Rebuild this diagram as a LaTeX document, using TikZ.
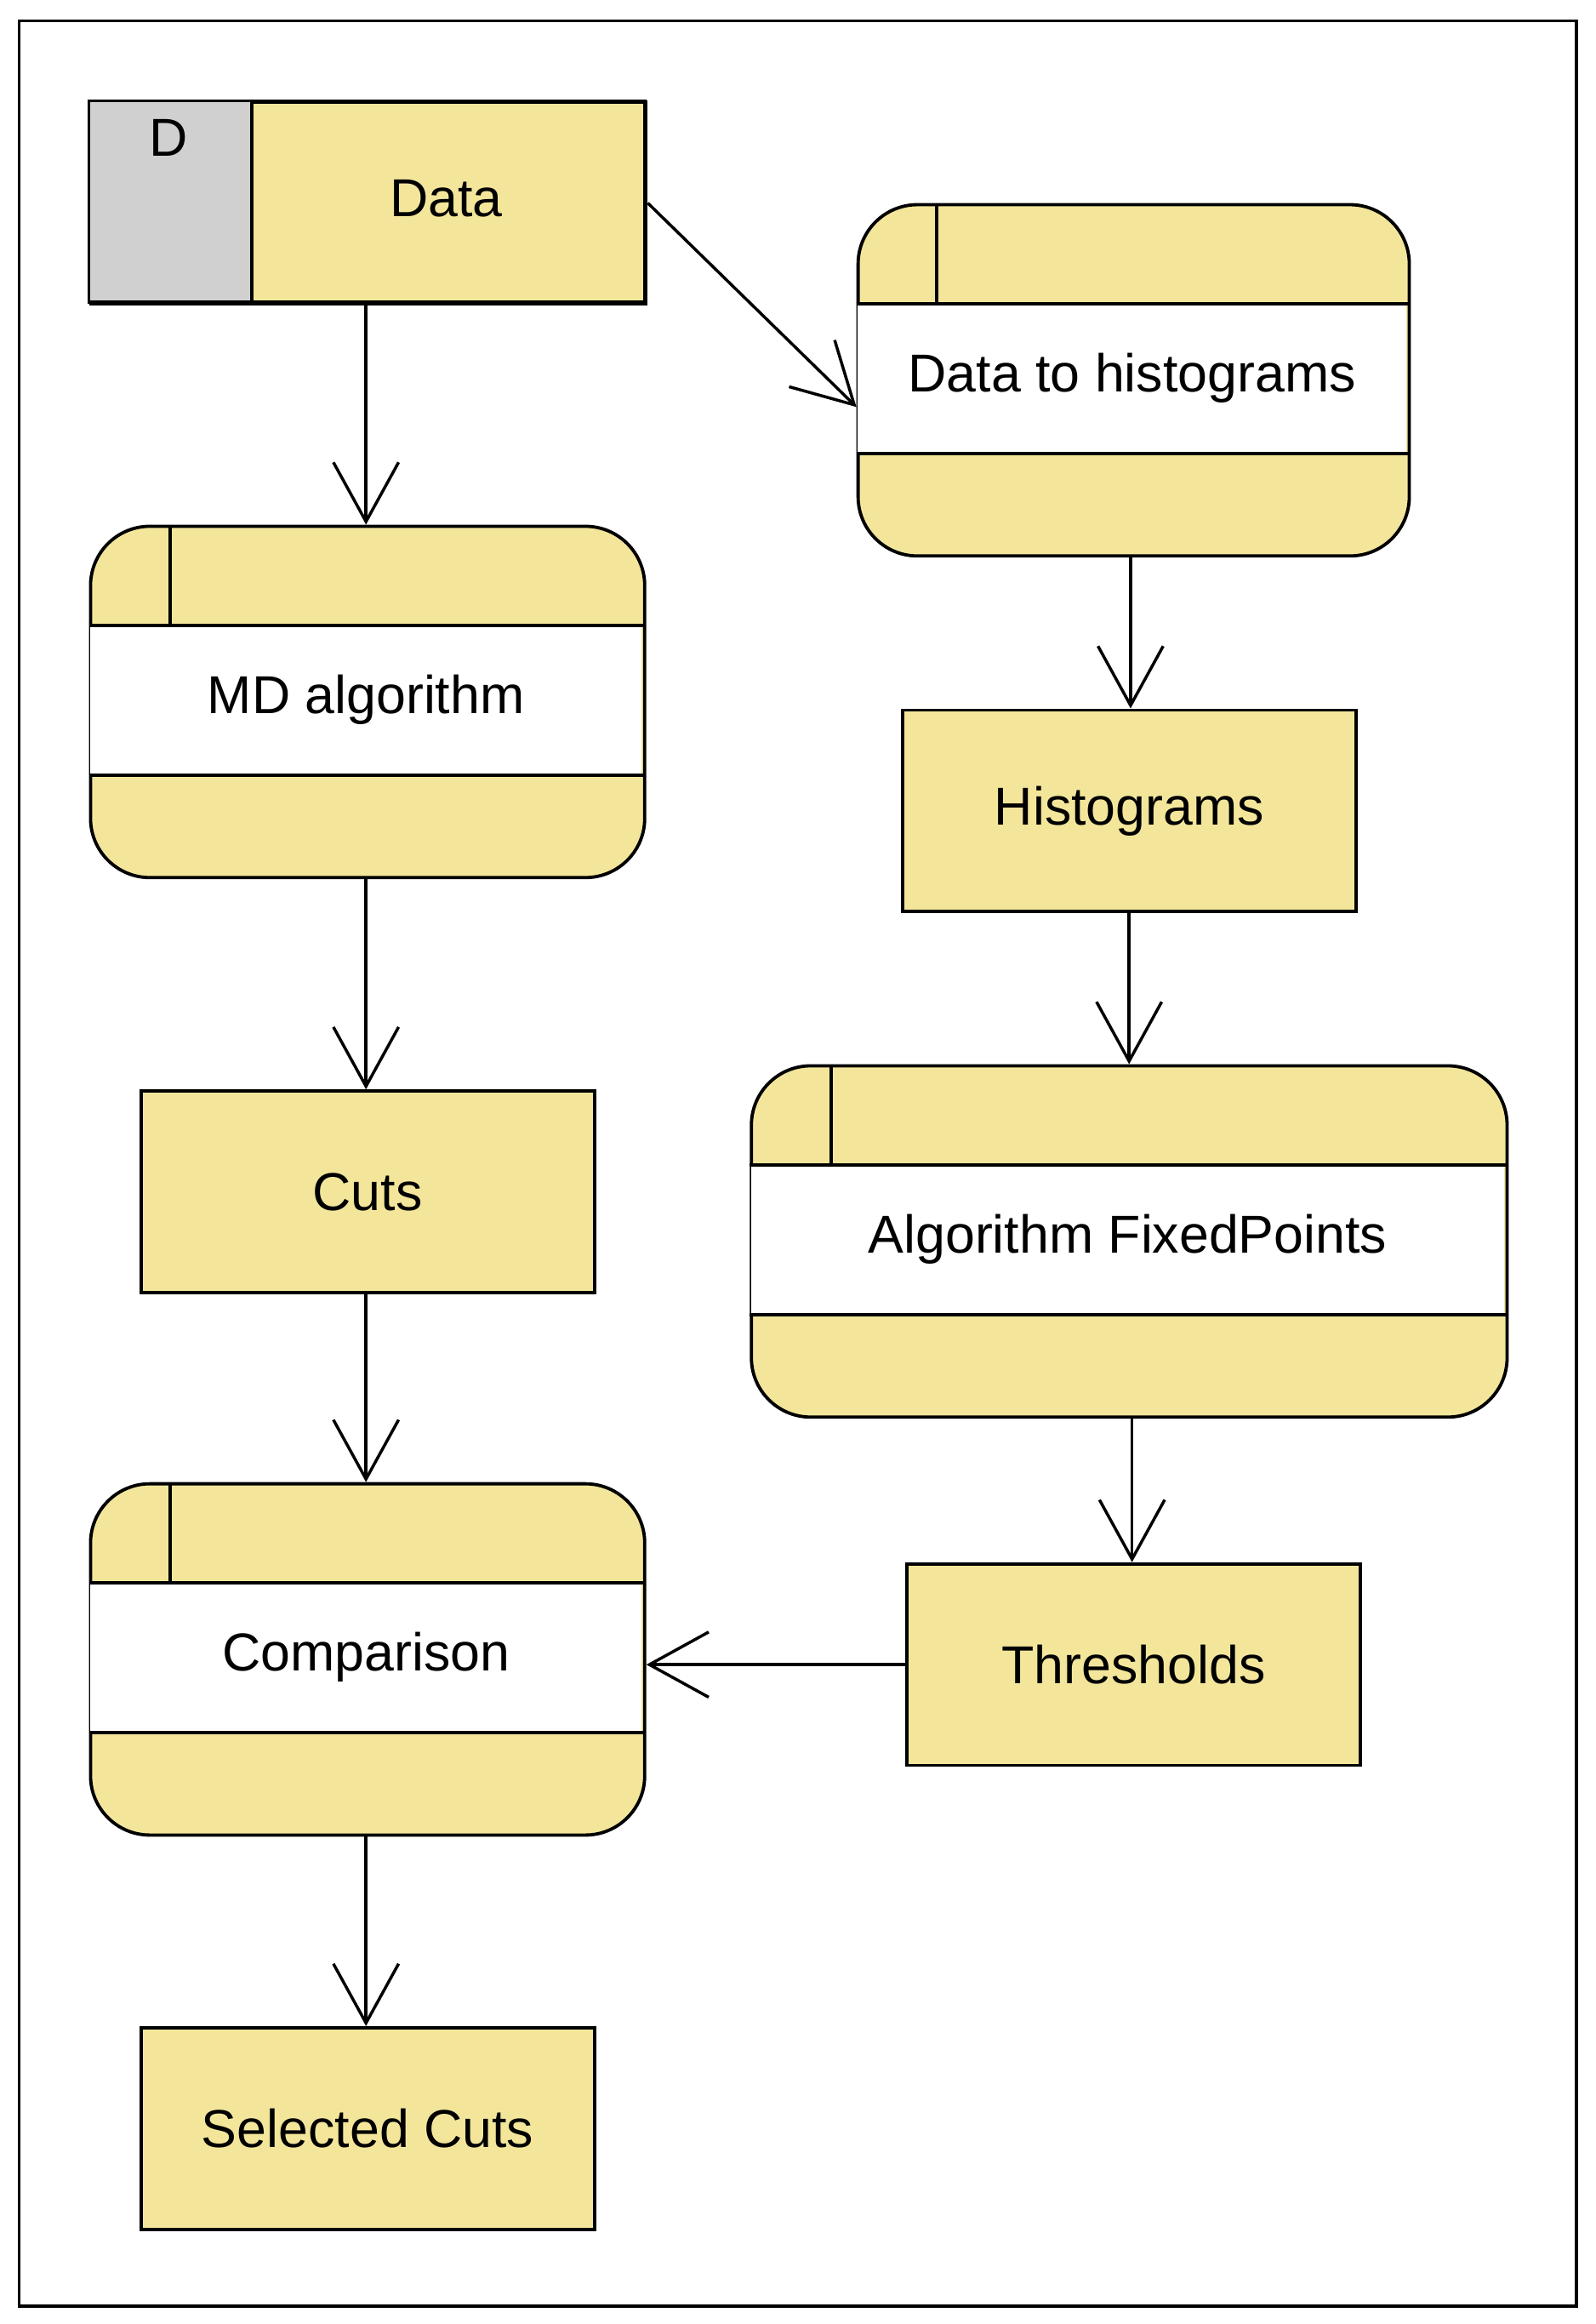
\documentclass[tikz,border=0pt]{standalone}
\usepackage{fontspec}
\setmainfont{Liberation Sans}
\usetikzlibrary{arrows.meta}
\definecolor{yel}{RGB}{243,230,155}
\definecolor{gr}{RGB}{208,208,208}
\begin{document}
\begin{tikzpicture}[x=1pt,y=-1pt,
  box/.style={draw,line width=2.2pt,fill=yel,minimum width=306pt,minimum height=136pt,font=\fontsize{36}{40}\selectfont},
  proc/.style={draw,line width=2.2pt,fill=yel,rounded corners=40pt,minimum height=237pt},
  lbl/.style={font=\fontsize{36}{40}\selectfont},
  arr/.style={line width=2pt,-{Straight Barb[length=40pt,width=44pt,line width=2pt]}}]
\useasboundingbox (0,0) rectangle (1077,1568);
\draw[line width=2pt] (13,14) rectangle (1064,1556);
% Data store
\node[box,minimum width=375pt,anchor=north west] (data) at (60,68) {};
\fill[gr] (61,69) rectangle (170,203);
\draw[line width=2.2pt] (60,68) rectangle (435,204);
\draw[line width=2.2pt] (170,68) -- (170,204);
\node[lbl] (dl) at (114,93) {D};
\node[lbl] (dt) at (301,134) {Data};
% processes
\newcommand{\procbox}[6]{% name, x1,y1,x2, divider x, text
  \node[proc,minimum width=#4pt-#2pt,anchor=north west] (#1) at (#2,#3) {};
  \fill[white] (#2+1,#3+68) rectangle (#4-1,#3+169);
  \draw[line width=2.2pt] (#2,#3+68) -- (#4,#3+68) (#2,#3+169) -- (#4,#3+169) (#5,#3) -- (#5,#3+68);
  \node[lbl] (#1t) at ({(#2+#4)/2},#3+118) {#6};}
\procbox{dth}{578}{137}{950}{632}{Data to histograms}
\procbox{md}{60}{354}{434}{115}{MD algorithm}
\procbox{afp}{506}{718}{1016}{561}{Algorithm FixedPoints}
\procbox{cmp}{60}{1000}{434}{115}{Comparison}
\node[box,anchor=north west] (hist) at (608,478) {Histograms};
\node[box,anchor=north west] (cuts) at (94,735) {Cuts};
\node[box,anchor=north west] (thr) at (611,1054) {Thresholds};
\node[box,anchor=north west] (sel) at (94,1367) {Selected Cuts};
% arrows
\draw[arr] (data.south -| 247,0) -- (md.north -| 247,0);
\draw[arr] (data.north east) ++(0,69) -- ([yshift=-18pt]dth.west);
\draw[arr] (dth.south -| 763,0) -- (hist.north -| 763,0);
\draw[arr] (hist.south -| 762,0) -- (afp.north -| 762,0);
\draw[arr] (md.south -| 247,0) -- (cuts.north -| 247,0);
\draw[arr] (cuts.south -| 247,0) -- (cmp.north -| 247,0);
\draw[arr] (afp.south -| 764,0) -- (thr.north -| 764,0);
\draw[arr] (thr.west) -- (cmp.east |- thr.west);
\draw[arr] (cmp.south -| 247,0) -- (sel.north -| 247,0);
\end{tikzpicture}
\end{document}
